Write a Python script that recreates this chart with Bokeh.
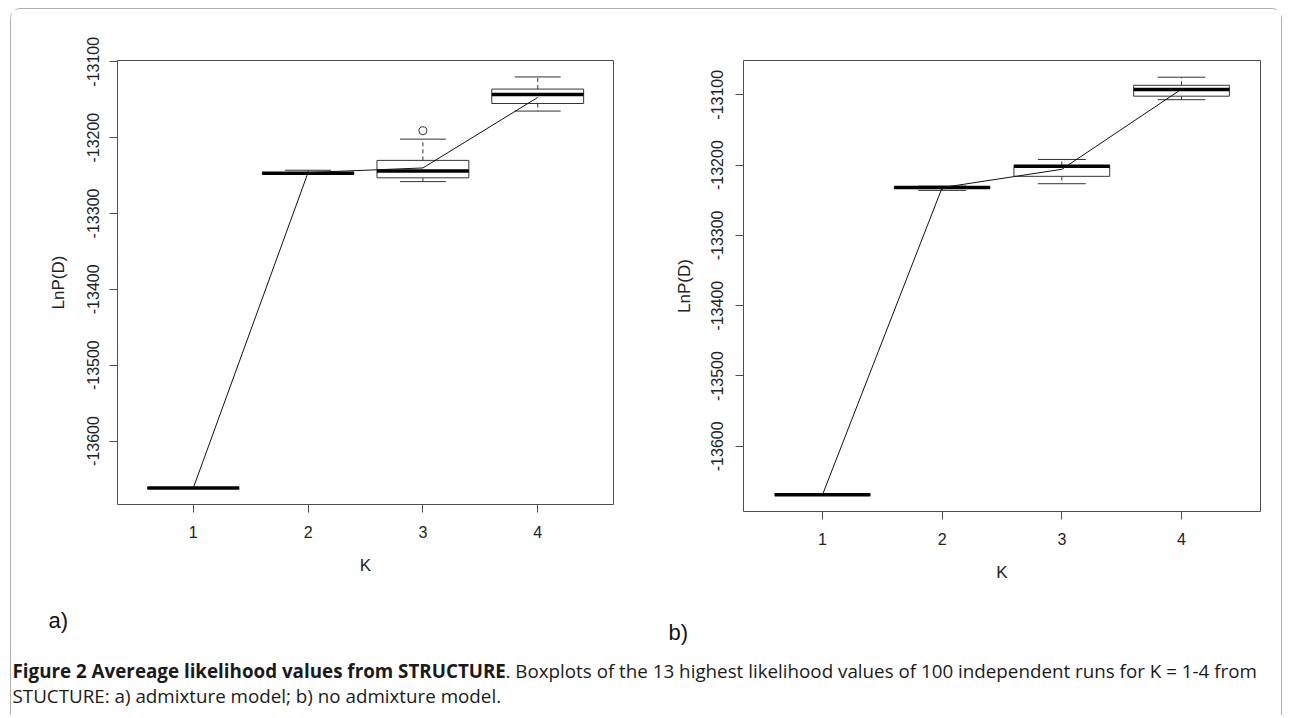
from bokeh.plotting import figure
from bokeh.models import Range1d, FixedTicker
from bokeh.layouts import column, row
from bokeh.core.properties import value
from bokeh.embed import file_html
from bokeh.resources import INLINE

# ---------------- data ----------------
K = [1, 2, 3, 4]
y_ticks = [-13600, -13500, -13400, -13300, -13200, -13100]
x_title = "K"
y_title = "LnP(D)"

# a) admixture model: boxplot statistics per K
a_lower = [-13662, -13248, -13258, -13165]
a_q1 = [-13662, -13247.5, -13253, -13155]
a_median = [-13662, -13247, -13244, -13143]
a_q3 = [-13662, -13246, -13230, -13136]
a_upper = [-13662, -13243, -13202, -13120]
a_mean = [-13662, -13246, -13240, -13147]
a_out_k = [3]
a_out_v = [-13191]

# b) no admixture model
b_lower = [-13669, -13236, -13226.5, -13107]
b_q1 = [-13669, -13233, -13216, -13102]
b_median = [-13669, -13232, -13201.5, -13092.5]
b_q3 = [-13669, -13231, -13200.5, -13086.5]
b_upper = [-13669, -13230, -13192, -13075]
b_mean = [-13669, -13232, -13206, -13092]
b_out_k = []
b_out_v = []

panel_labels = ["a)", "b)"]
caption_title = "Figure 2 Avereage likelihood values from STRUCTURE"
caption_rest = ". Boxplots of the 13 highest likelihood values of 100 independent runs for K = 1-4 from"
caption_line2 = "STUCTURE: a) admixture model; b) no admixture model."

FONT = "Liberation Sans"
BOXW = 0.8


def panel(lower, q1, med, q3, upper, mean, out_k, out_v,
          fw, fh, bl, br, bt, bb, ylab_off, ytitle_off, xlab_off, xtitle_off):
    allv = lower + upper + out_v
    lo, hi = min(allv), max(allv)
    r = hi - lo
    p = figure(frame_width=fw, frame_height=fh,
               min_border_left=bl, min_border_right=br,
               min_border_top=bt, min_border_bottom=bb,
               x_range=Range1d(0.5 - 0.04 * 4, 4.5 + 0.04 * 4),
               y_range=Range1d(lo - 0.04 * r, hi + 0.04 * r),
               toolbar_location=None, output_backend="svg")
    p.xgrid.grid_line_color = None
    p.ygrid.grid_line_color = None
    p.outline_line_color = "#4d4d4d"
    p.outline_line_width = 1
    p.background_fill_color = "white"
    p.border_fill_color = "white"

    left = [k - BOXW / 2 for k in K]
    right = [k + BOXW / 2 for k in K]
    cl = [k - BOXW / 4 for k in K]
    cr = [k + BOXW / 4 for k in K]

    # whiskers
    p.segment(x0=K, y0=q3, x1=K, y1=upper, line_color="#333333",
              line_width=1, line_dash="4 3")
    p.segment(x0=K, y0=q1, x1=K, y1=lower, line_color="#333333",
              line_width=1, line_dash="4 3")
    # staples
    p.segment(x0=cl, y0=upper, x1=cr, y1=upper, line_color="#333333", line_width=1)
    p.segment(x0=cl, y0=lower, x1=cr, y1=lower, line_color="#333333", line_width=1)
    # boxes
    p.quad(left=left, right=right, bottom=q1, top=q3, fill_color="white",
           line_color="#333333", line_width=1)
    # medians
    p.segment(x0=left, y0=med, x1=right, y1=med, line_color="#000000",
              line_width=3.5)
    # outliers
    if out_k:
        p.scatter(x=out_k, y=out_v, marker="circle", size=8, fill_color=None,
                  line_color="#333333", line_width=1)
    # mean line
    p.line(x=K, y=mean, line_color="#111111", line_width=1)

    for ax in (p.xaxis[0], p.yaxis[0]):
        ax.axis_line_color = None
        ax.major_tick_line_color = "#4d4d4d"
        ax.major_tick_in = 0
        ax.major_tick_out = 8
        ax.minor_tick_line_color = None
        ax.major_label_text_font = FONT
        ax.major_label_text_font_size = "16px"
        ax.major_label_text_color = "#222222"
        ax.axis_label_text_font = FONT
        ax.axis_label_text_font_size = "17px"
        ax.axis_label_text_font_style = "normal"
        ax.axis_label_text_color = "#222222"

    p.xaxis.major_label_standoff = xlab_off
    p.xaxis.axis_label_standoff = xtitle_off
    p.yaxis.major_label_standoff = ylab_off
    p.yaxis.axis_label_standoff = ytitle_off

    p.xaxis.ticker = FixedTicker(ticks=K)
    p.xaxis.axis_label = x_title
    p.yaxis.ticker = FixedTicker(ticks=y_ticks)
    p.yaxis.major_label_overrides = {t: str(t) for t in y_ticks}
    p.yaxis.major_label_orientation = "vertical"
    p.yaxis.axis_label = y_title
    return p


pa = panel(a_lower, a_q1, a_median, a_q3, a_upper, a_mean, a_out_k, a_out_v,
           fw=496, fh=444, bl=106, br=48, bt=50, bb=96,
           ylab_off=10, ytitle_off=17, xlab_off=13, xtitle_off=15)
pb = panel(b_lower, b_q1, b_median, b_q3, b_upper, b_mean, b_out_k, b_out_v,
           fw=517, fh=451, bl=82, br=21, bt=51, bb=88,
           ylab_off=12, ytitle_off=15, xlab_off=13, xtitle_off=15)

# caption strip (coordinates in page pixels)
pc = figure(width=1270, height=116, x_range=Range1d(11, 1281),
            y_range=Range1d(715, 599), min_border=0,
            x_axis_type=None, y_axis_type=None,
            toolbar_location=None, output_backend="svg")
pc.outline_line_color = None
pc.xgrid.grid_line_color = None
pc.ygrid.grid_line_color = None
pc.text(x=[48, 668], y=[620, 632], text=panel_labels,
        text_font=value(FONT), text_font_size="22px",
        text_baseline="middle", text_align="left", text_color="#111111")
CAP_FONT = "Open Sans"
CAP_SIZE = "18.8px"
pc.text(x=[12], y=[670], text=[caption_title], text_font=value(CAP_FONT),
        text_font_size=CAP_SIZE, text_font_style="bold",
        text_baseline="middle", text_align="left", text_color="#1a1a1a")
pc.text(x=[505], y=[670], text=[caption_rest], text_font=value(CAP_FONT),
        text_font_size=CAP_SIZE, text_baseline="middle", text_align="left",
        text_color="#1a1a1a")
pc.text(x=[12], y=[695], text=[caption_line2], text_font=value(CAP_FONT),
        text_font_size=CAP_SIZE, text_baseline="middle", text_align="left",
        text_color="#1a1a1a")

layout = column(row(pa, pb), pc, margin=(8, 0, 0, 10),
                styles={"border": "1px solid #b0b0b0", "border-bottom": "none",
                        "border-radius": "10px 10px 0 0"})

open("out.html", "w").write(file_html(layout, INLINE))
